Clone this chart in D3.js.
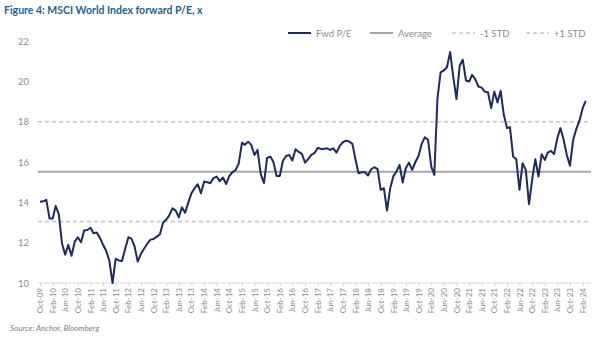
<!DOCTYPE html>
<html>
<head>
<meta charset="utf-8">
<script src="https://cdn.jsdelivr.net/npm/d3@7"></script>
<style>
  body { margin: 0; background: #fff; }
  svg { display: block; font-family: Lato, "Open Sans", sans-serif; }
</style>
</head>
<body>
<svg id="svg" width="602" height="343"></svg>
<script>
// monthly forward P/E, first point is Oct-09
const startMonth = new Date(2009, 9, 1);
const fwdPE = [
  14.03, 14.05, 14.12, 13.2, 13.2, 13.82, 13.4, 11.97, 11.4, 11.89,
  11.35, 12.05, 12.27, 12.02, 12.6, 12.63, 12.74, 12.47, 12.5, 12.25,
  11.9, 11.6, 11.1, 10.0, 11.2, 11.12, 11.09, 11.7, 12.27, 12.2,
  11.8, 11.06, 11.45, 11.7, 11.95, 12.15, 12.18, 12.3, 12.42, 13.0,
  13.15, 13.35, 13.7, 13.6, 13.25, 13.75, 13.48, 14.0, 14.45, 14.7,
  14.9, 14.45, 15.03, 15.0, 14.95, 15.2, 15.28, 15.05, 15.23, 14.91,
  15.3, 15.5, 15.6, 15.94, 16.96, 16.85, 17.01, 16.85, 16.35, 16.6,
  15.4, 14.95, 16.2, 16.27, 16.0, 15.3, 15.31, 16.05, 16.3, 16.35,
  16.07, 16.63, 16.5, 16.4, 15.97, 16.15, 16.35, 16.45, 16.7, 16.66,
  16.65, 16.68, 16.6, 16.68, 16.47, 16.8, 16.98, 17.06, 17.02, 16.9,
  16.1, 15.44, 15.49, 15.49, 15.33, 15.64, 15.74, 15.65, 14.62, 14.7,
  13.59, 14.7, 15.3, 15.52, 15.86, 14.98, 15.7, 15.97, 15.61, 16.0,
  16.3, 16.9, 17.23, 17.1, 15.77, 15.36, 19.17, 20.44, 20.54, 20.7,
  21.45, 20.2, 19.12, 20.77, 21.07, 20.04, 19.99, 20.32, 20.1, 19.74,
  19.69, 19.49, 19.46, 18.67, 19.49, 18.95, 19.53, 18.34, 17.68, 17.73,
  16.27, 16.14, 14.62, 15.94, 15.61, 13.91, 15.11, 16.14, 15.28, 16.39,
  16.1, 16.47, 16.55, 16.39, 17.18, 17.68, 17.1, 16.35, 15.81, 17.1,
  17.63, 18.05, 18.67, 19.03
];
const average = 15.52;
const minusStd = 13.05;
const plusStd = 17.99;
const yTicks = [10, 12, 14, 16, 18, 20, 22];
const legendItems = [
  { label: 'Fwd P/E', x: 288, kind: 'pe' },
  { label: 'Average', x: 370, kind: 'avg' },
  { label: '-1 STD', x: 452, kind: 'std' },
  { label: '+1 STD', x: 526, kind: 'std' }
];

const navy = '#1f2b58';
const avgGrey = '#a6a6a6';
const stdGrey = '#c3c3c3';
const textGrey = '#8c8c8c';

const data = fwdPE.map((v, i) => ({ date: d3.timeMonth.offset(startMonth, i), value: v }));

const svg = d3.select('#svg');
const left = 38, right = 591;

const x = d3.scaleTime()
  .domain([startMonth, new Date(2024, 1, 1)])
  .range([40, 582.7]);
const y = d3.scaleLinear().domain([10, 22]).range([283, 41]);

// title
svg.append('text')
  .attr('x', 4).attr('y', 14)
  .attr('font-size', 10.5).attr('font-weight', 'bold')
  .attr('fill', '#1e5f8c')
  .text('Figure 4: MSCI World Index forward P/E, x');

// y labels only, no axis line
svg.append('g').selectAll('text').data(yTicks).join('text')
  .attr('x', 29).attr('y', (d) => y(d) + 3.5)
  .attr('text-anchor', 'end')
  .attr('font-size', 9.5).attr('fill', textGrey)
  .text((d) => d);

// x axis
const xTicks = d3.timeMonth.range(startMonth, new Date(2024, 2, 1), 4);
const gx = svg.append('g').attr('transform', 'translate(0,283)');
gx.append('line').attr('x1', left).attr('x2', right).attr('stroke', '#d9d9d9');
gx.call(d3.axisBottom(x).tickValues(xTicks).tickFormat(d3.timeFormat('%b-%y')).tickSize(3).tickSizeOuter(0));
gx.select('.domain').remove();
gx.selectAll('.tick line').attr('stroke', '#d0d0d0');
gx.selectAll('.tick text')
  .attr('font-family', 'Lato, sans-serif')
  .attr('font-size', 8).attr('fill', textGrey)
  .attr('text-anchor', 'end')
  .attr('transform', 'rotate(-90)')
  .attr('x', -5).attr('y', 0).attr('dy', '0.32em');

// reference lines
svg.append('line')
  .attr('x1', left).attr('x2', right).attr('y1', y(average)).attr('y2', y(average))
  .attr('stroke', avgGrey).attr('stroke-width', 2);
[minusStd, plusStd].forEach((v) => {
  svg.append('line')
    .attr('x1', left).attr('x2', right).attr('y1', y(v)).attr('y2', y(v))
    .attr('stroke', stdGrey).attr('stroke-width', 1.5).attr('stroke-dasharray', '4,3');
});

// forward P/E line
const line = d3.line().x((d) => x(d.date)).y((d) => y(d.value));
svg.append('path').datum(data)
  .attr('d', line)
  .attr('fill', 'none').attr('stroke', navy).attr('stroke-width', 2)
  .attr('stroke-linejoin', 'round');

// legend
const lg = svg.append('g').selectAll('g').data(legendItems).join('g')
  .attr('transform', (d) => 'translate(' + d.x + ',33)');
lg.append('line')
  .attr('x1', 0).attr('x2', 23)
  .attr('stroke', (d) => d.kind === 'pe' ? navy : d.kind === 'avg' ? avgGrey : stdGrey)
  .attr('stroke-width', (d) => d.kind === 'std' ? 1.5 : 2)
  .attr('stroke-dasharray', (d) => d.kind === 'std' ? '4,3' : null);
lg.append('text')
  .attr('x', 28).attr('y', 3.5)
  .attr('font-size', 9.5).attr('fill', textGrey)
  .text((d) => d.label);

// source
svg.append('text')
  .attr('x', 10).attr('y', 331)
  .attr('font-size', 8).attr('font-style', 'italic').attr('fill', '#7f7f7f')
  .text('Source: Anchor, Bloomberg');
</script>
</body>
</html>
